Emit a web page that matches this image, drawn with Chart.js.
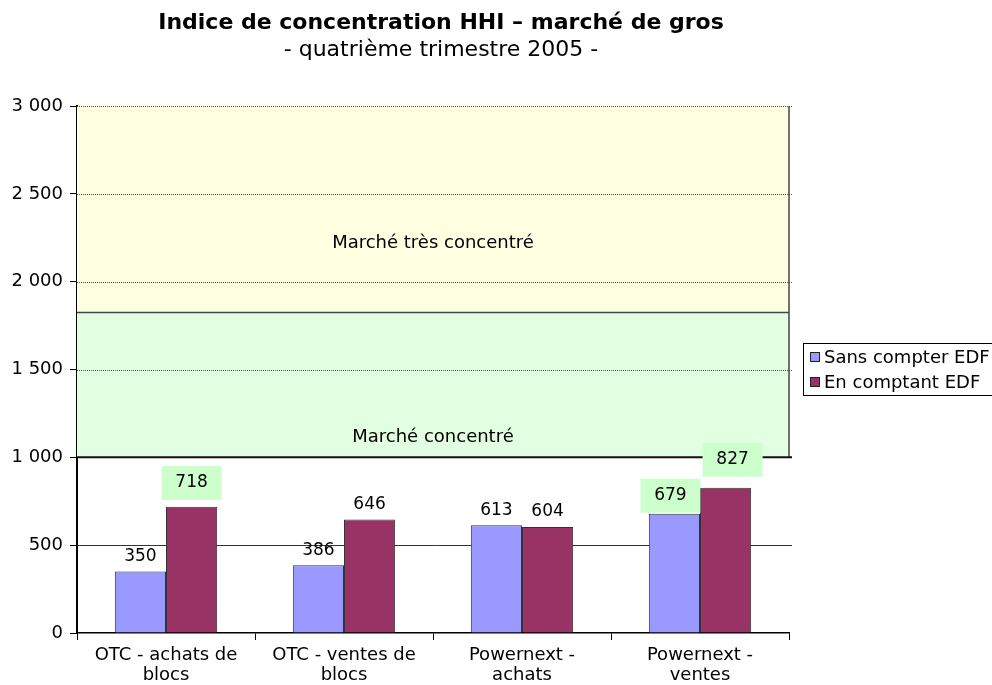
<!DOCTYPE html>
<html>
<head>
<meta charset="utf-8">
<script src="https://cdn.jsdelivr.net/npm/chart.js@4"></script>
<style>
  html, body { margin: 0; padding: 0; background: #fff; }
  #wrap { width: 992px; height: 685px; position: relative; }
</style>
</head>
<body>
<div id="wrap"><canvas id="myChart" width="992" height="685"></canvas></div>
<script>
const categories = [['OTC - achats de', 'blocs'], ['OTC - ventes de', 'blocs'], ['Powernext -', 'achats'], ['Powernext -', 'ventes']];
const sansEDF = [350, 386, 613, 679];
const avecEDF = [718, 646, 604, 827];
const seriesNames = ['Sans compter EDF', 'En comptant EDF'];
const yTicks = [0, 500, 1000, 1500, 2000, 2500, 3000];
// zones de concentration (bornes en HHI)
const zoneConcentre = [1000, 1825];
const zoneTresConcentre = [1825, 3000];
const zoneLabels = ['Marché concentré', 'Marché très concentré'];
const zoneLabelValues = [1115, 2220];
const titre = 'Indice de concentration HHI – marché de gros';
const sousTitre = '- quatrième trimestre 2005 -';

const FONT = '"DejaVu Sans", Verdana, sans-serif';

function fmt(v) {
  return String(v).replace(/\B(?=(\d{3})+(?!\d))/g, ' ');
}

// étiquettes sur fond vert : [décalage x, décalage y]
const boxed = { '1-0': [0, 0], '0-3': [-4, 6], '1-3': [7, -4] };

const zonesPlugin = {
  id: 'zones',
  beforeDatasetsDraw(chart) {
    const ctx = chart.ctx;
    const a = chart.chartArea;
    const y = chart.scales.y;
    const yTop = y.getPixelForValue(zoneTresConcentre[1]);
    const yMid = y.getPixelForValue(zoneTresConcentre[0]);
    const yLow = y.getPixelForValue(zoneConcentre[0]);
    ctx.save();
    ctx.fillStyle = '#FFFFE2';
    ctx.fillRect(a.left, yTop, a.right - a.left, yMid - yTop);
    ctx.fillStyle = '#E2FFE2';
    ctx.fillRect(a.left, yMid, a.right - a.left, yLow - yMid);

    // lignes de grille
    yTicks.forEach(function(v) {
      if (v === 0) return;
      const py = Math.round(y.getPixelForValue(v)) + 0.5;
      ctx.beginPath();
      if (v > zoneConcentre[0]) {
        ctx.strokeStyle = '#555';
        ctx.setLineDash([1, 1]);
      } else {
        ctx.strokeStyle = '#333';
        ctx.setLineDash([]);
      }
      ctx.lineWidth = 1;
      ctx.moveTo(a.left, py);
      ctx.lineTo(a.right + 3, py);
      ctx.stroke();
    });
    ctx.setLineDash([]);

    // bordures des zones
    ctx.strokeStyle = '#444';
    ctx.lineWidth = 1.5;
    ctx.beginPath();
    ctx.moveTo(a.left, yMid);
    ctx.lineTo(a.right, yMid);
    ctx.moveTo(a.right, yTop);
    ctx.lineTo(a.right, yLow);
    ctx.stroke();
    ctx.strokeStyle = '#111';
    ctx.lineWidth = 2;
    ctx.beginPath();
    ctx.moveTo(a.left, yLow);
    ctx.lineTo(a.right + 3, yLow);
    ctx.stroke();

    ctx.fillStyle = '#000';
    ctx.font = '18px ' + FONT;
    ctx.textAlign = 'center';
    ctx.textBaseline = 'middle';
    const cx = (a.left + a.right) / 2;
    zoneLabels.forEach(function(t, i) {
      ctx.fillText(t, cx, y.getPixelForValue(zoneLabelValues[i]));
    });
    ctx.restore();
  },
  afterDatasetsDraw(chart) {
    const ctx = chart.ctx;
    ctx.save();
    ctx.font = '17px ' + FONT;
    ctx.textAlign = 'center';
    ctx.textBaseline = 'middle';
    chart.data.datasets.forEach(function(ds, i) {
      chart.getDatasetMeta(i).data.forEach(function(bar, j) {
        const key = i + '-' + j;
        const txt = String(ds.data[j]);
        if (boxed[key]) {
          const cx = bar.x + boxed[key][0];
          const cy = bar.y - 24 + boxed[key][1];
          ctx.fillStyle = '#CCFFCC';
          ctx.fillRect(cx - 30, cy - 17, 60, 34);
          ctx.fillStyle = '#000';
          ctx.fillText(txt, cx, cy);
        } else {
          ctx.fillStyle = '#000';
          ctx.fillText(txt, bar.x, bar.y - 15);
        }
      });
    });

    // titre
    ctx.textAlign = 'center';
    ctx.font = 'bold 22px ' + FONT;
    ctx.fillText(titre, 441, 23);
    ctx.font = '22px ' + FONT;
    ctx.fillText(sousTitre, 441, 50);

    // légende
    const lx = 803, ly = 343, lw = 200, lh = 52;
    ctx.fillStyle = '#fff';
    ctx.fillRect(lx, ly, lw, lh);
    ctx.strokeStyle = '#000';
    ctx.lineWidth = 1;
    ctx.strokeRect(lx + 0.5, ly + 0.5, lw, lh);
    ctx.font = '18px ' + FONT;
    ctx.textAlign = 'left';
    chart.data.datasets.forEach(function(ds, i) {
      const ry = ly + 14 + i * 25;
      ctx.fillStyle = ds.backgroundColor;
      ctx.fillRect(lx + 7, ry - 5, 10, 10);
      ctx.strokeStyle = '#222';
      ctx.strokeRect(lx + 7.5, ry - 4.5, 9, 9);
      ctx.fillStyle = '#000';
      ctx.fillText(ds.label, lx + 21, ry + 1);
    });
    ctx.restore();
  }
};

new Chart(document.getElementById('myChart'), {
  type: 'bar',
  data: {
    labels: categories,
    datasets: [
      { label: seriesNames[0], data: sansEDF, backgroundColor: '#9999FF', borderColor: '#333', borderWidth: 1,
        categoryPercentage: 0.575, barPercentage: 1 },
      { label: seriesNames[1], data: avecEDF, backgroundColor: '#993366', borderColor: '#333', borderWidth: 1,
        categoryPercentage: 0.575, barPercentage: 1 }
    ]
  },
  plugins: [zonesPlugin],
  options: {
    responsive: false,
    animation: false,
    layout: { padding: { left: 0, right: 203, top: 106, bottom: 0 } },
    plugins: {
      legend: { display: false },
      tooltip: { enabled: false }
    },
    scales: {
      x: {
        grid: { drawOnChartArea: false, offset: true, tickLength: 7, color: '#000' },
        border: { color: '#000', width: 1.5 },
        ticks: { color: '#000', font: { family: FONT, size: 18, lineHeight: 1.12 }, padding: 5, maxRotation: 0 },
        afterFit: function(s) { s.height = 52; }
      },
      y: {
        min: 0,
        max: 3000,
        afterBuildTicks: function(s) { s.ticks = yTicks.map(function(v) { return { value: v }; }); },
        grid: { drawOnChartArea: false, tickLength: 7, color: '#000' },
        border: { color: '#000', width: 2 },
        ticks: { color: '#000', font: { family: FONT, size: 18 }, padding: 7,
          callback: function(v) { return fmt(v); } },
        afterFit: function(s) { s.width = 77; }
      }
    }
  }
});
</script>
</body>
</html>
